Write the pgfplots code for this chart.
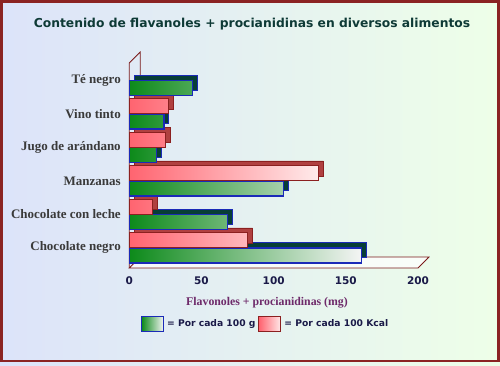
\documentclass[border=0pt]{standalone}
\usepackage{pgfplots}
\usepackage{pgfplotstable}
\pgfplotsset{compat=1.18}
\usepackage{fontspec}
\setmainfont{Liberation Serif}
\newfontfamily\dvs{DejaVu Sans}
\definecolor{frame}{HTML}{8B2323}
\definecolor{bgL}{HTML}{DCE3FA}
\definecolor{bgM}{HTML}{E6FFFC}
\definecolor{bgR}{HTML}{EEFFE8}
\definecolor{titlec}{HTML}{0E3A36}
\definecolor{gdark}{HTML}{0C8A1A}
\definecolor{gedge}{HTML}{1A2AB8}
\definecolor{gdepth}{HTML}{073E36}
\definecolor{rlight}{HTML}{FF6470}
\definecolor{redge}{HTML}{8B2020}
\definecolor{rdepth}{HTML}{B04040}
\definecolor{labc}{HTML}{3A3A3A}
\definecolor{tickc}{HTML}{1A1A48}
\definecolor{xlabc}{HTML}{6E2A6A}
\definecolor{wallc}{HTML}{7A1A1A}

\pgfplotstableread{
idx g
0 161
1 68
2 107
3 19
4 24
5 44
}\tabG
\pgfplotstableread{
idx r
0 82
1 16
2 131
3 25
4 27
}\tabR

\begin{document}
\begin{tikzpicture}
\useasboundingbox (0pt,0pt) rectangle (500pt,365pt);
\shade[left color=bgL, middle color=bgM, right color=bgR] (0pt,0pt) rectangle (500pt,365pt);
\draw[frame, line width=2.5pt] (1.5pt,4pt) rectangle (498.5pt,363.5pt);
\node[font=\dvs\bfseries\fontsize{12.3}{14}\selectfont, text=titlec] at (252pt,341pt) {Contenido de flavanoles + procianidinas en diversos alimentos};
\begin{axis}[
  at={(129.3pt,97pt)}, anchor=south west,
  scale only axis, width=288.7pt, height=216pt,
  xmin=0, xmax=200, ymin=-0.6, ymax=5.85,
  clip=false,
  axis line style={draw=none},
  major tick length=0pt,
  xtick={0,50,...,200},
  ytick={0,...,5},
  yticklabels={Chocolate negro, Chocolate con leche, Manzanas, Jugo de arándano, Vino tinto, Té negro},
  /pgf/number format/assume math mode=true,
  xticklabel style={font=\dvs\bfseries\fontsize{10.5}{12}\selectfont, text=tickc, yshift=-5pt},
  yticklabel style={font=\bfseries\fontsize{13}{15}\selectfont, text=labc, xshift=-5pt},
  xlabel={Flavonoles + procianidinas (mg)},
  xlabel style={at={(axis description cs:0.477,-0.162)}, anchor=center, font=\bfseries\fontsize{11.8}{13}\selectfont, text=xlabc},
  legend columns=2,
  legend style={draw=none, fill=none, at={(axis description cs:0.472,-0.259)}, anchor=center,
    font=\dvs\bfseries\fontsize{9.2}{11}\selectfont, text=tickc, column sep=1pt},
  xbar, bar width=15pt,
]
\fill[white, opacity=0.7] (axis cs:0,-0.6) -- (axis cs:200,-0.6) -- ++(11pt,11pt) -- ([xshift=11pt,yshift=11pt]axis cs:0,-0.6) -- cycle;
\draw[wallc, line width=0.8pt] (axis cs:0,-0.6) -- (axis cs:200,-0.6) -- ++(11pt,11pt) -- ([xshift=11pt,yshift=11pt]axis cs:0,-0.6) -- cycle;
\draw[wallc, line width=0.8pt] (axis cs:0,-0.6) -- ([yshift=-11pt]axis cs:0,5.85) -- ++(11pt,11pt) -- ([xshift=11pt,yshift=11pt]axis cs:0,-0.6);
% depth faces
\addplot[bar shift=-2.5pt, xshift=5pt, fill=gdepth, draw=gedge, line width=1pt, forget plot] table[x=g,y=idx]{\tabG};
\addplot[bar shift=12.5pt, xshift=5pt, fill=rdepth, draw=redge, line width=0.8pt, forget plot] table[x=r,y=idx]{\tabR};
% front faces
\addplot[bar shift=-7.5pt, left color=gdark, right color=white!92!gray, draw=gedge, line width=1.2pt,
  legend image code/.code={\fill[left color=gdark, right color=white] (0pt,-7.5pt) rectangle (22pt,7.5pt); \draw[gedge, line width=1.2pt] (0pt,-7.5pt) rectangle (22pt,7.5pt);}]
  table[x=g,y=idx]{\tabG};
\addlegendentry{= Por cada 100 g}
\addplot[bar shift=7.5pt, left color=rlight, right color=white!92!red, draw=redge, line width=1pt,
  legend image code/.code={\fill[left color=rlight, right color=white] (0pt,-7.5pt) rectangle (22pt,7.5pt); \draw[redge, line width=1pt] (0pt,-7.5pt) rectangle (22pt,7.5pt);}]
  table[x=r,y=idx]{\tabR};
\addlegendentry{= Por cada 100 Kcal}
\end{axis}
\end{tikzpicture}
\end{document}
